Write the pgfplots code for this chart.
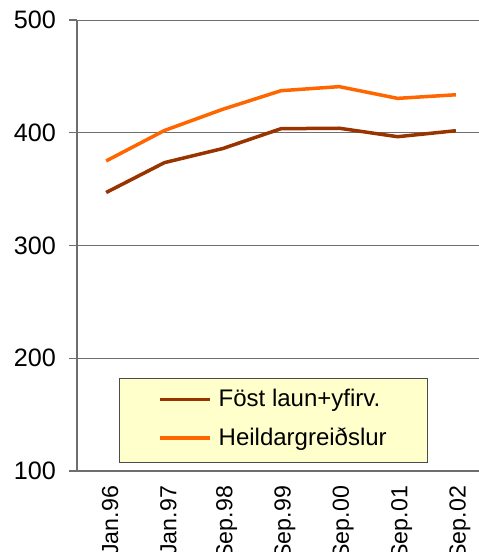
\documentclass[border=0pt]{standalone}
\usepackage{fontspec}
\setmainfont{Liberation Sans}
\usepackage{pgfplots}
\pgfplotsset{compat=1.18}

\definecolor{fastbrown}{RGB}{153,51,0}
\definecolor{heildorange}{RGB}{255,102,0}
\definecolor{legfill}{RGB}{255,255,204}
\definecolor{gridgray}{RGB}{110,110,110}

\begin{document}
\begin{tikzpicture}
\begin{axis}[
  scale only axis,
  width=204pt, height=225.5pt,
  xmin=-0.5, xmax=6.5,
  ymin=100, ymax=500,
  axis lines*=left,
  axis line style={gridgray, line width=0.6pt},
  ytick={100,200,300,400,500},
  ymajorgrids,
  grid style={gridgray, line width=0.5pt},
  xtick={0,...,6},
  xticklabels={Jan.96,Jan.97,Sep.98,Sep.99,Sep.00,Sep.01,Sep.02},
  minor xtick={-0.5,0.5,1.5,2.5,3.5,4.5,5.5},
  x tick style={draw=none},
  minor x tick style={gridgray, line width=0.6pt},
  y tick style={gridgray, line width=0.6pt},
  tick align=outside,
  major tick length=4pt,
  minor tick length=3pt,
  /pgf/number format/assume math mode=true,
  yticklabel style={font=\fontsize{12.6}{14}\selectfont, anchor=east, xshift=-3pt},
  xticklabel style={font=\fontsize{11.6}{14}\selectfont, rotate=90, anchor=east, yshift=-2pt},
  legend style={draw=none, fill=none, at={(0.198,0.1153)}, anchor=west,
    font=\fontsize{12}{14}\selectfont, row sep=5pt, column sep=1.5pt,
    inner sep=0pt},
  legend cell align=left,
  legend image code/.code={\draw[#1] (0pt,0pt) -- (25pt,0pt);},
  clip=false,
]
\draw[black!70, fill=legfill, line width=0.5pt]
  (axis description cs:0.103,0.2047) rectangle (axis description cs:0.860,0.0186);
\addplot[fastbrown, line width=1.75pt] coordinates {
  (0,347) (1,373.5) (2,386) (3,403.6) (4,404) (5,396.5) (6,401.8)};
\addlegendentry{Föst laun+yfirv.}
\addplot[heildorange, line width=1.75pt] coordinates {
  (0,375) (1,402) (2,420.8) (3,437.3) (4,440.9) (5,430.5) (6,433.7)};
\addlegendentry{Heildargreiðslur}
\end{axis}
\pgfresetboundingbox
\useasboundingbox (-38.5pt,-40.5pt) rectangle (200.5pt,235.5pt);
\end{tikzpicture}
\end{document}
